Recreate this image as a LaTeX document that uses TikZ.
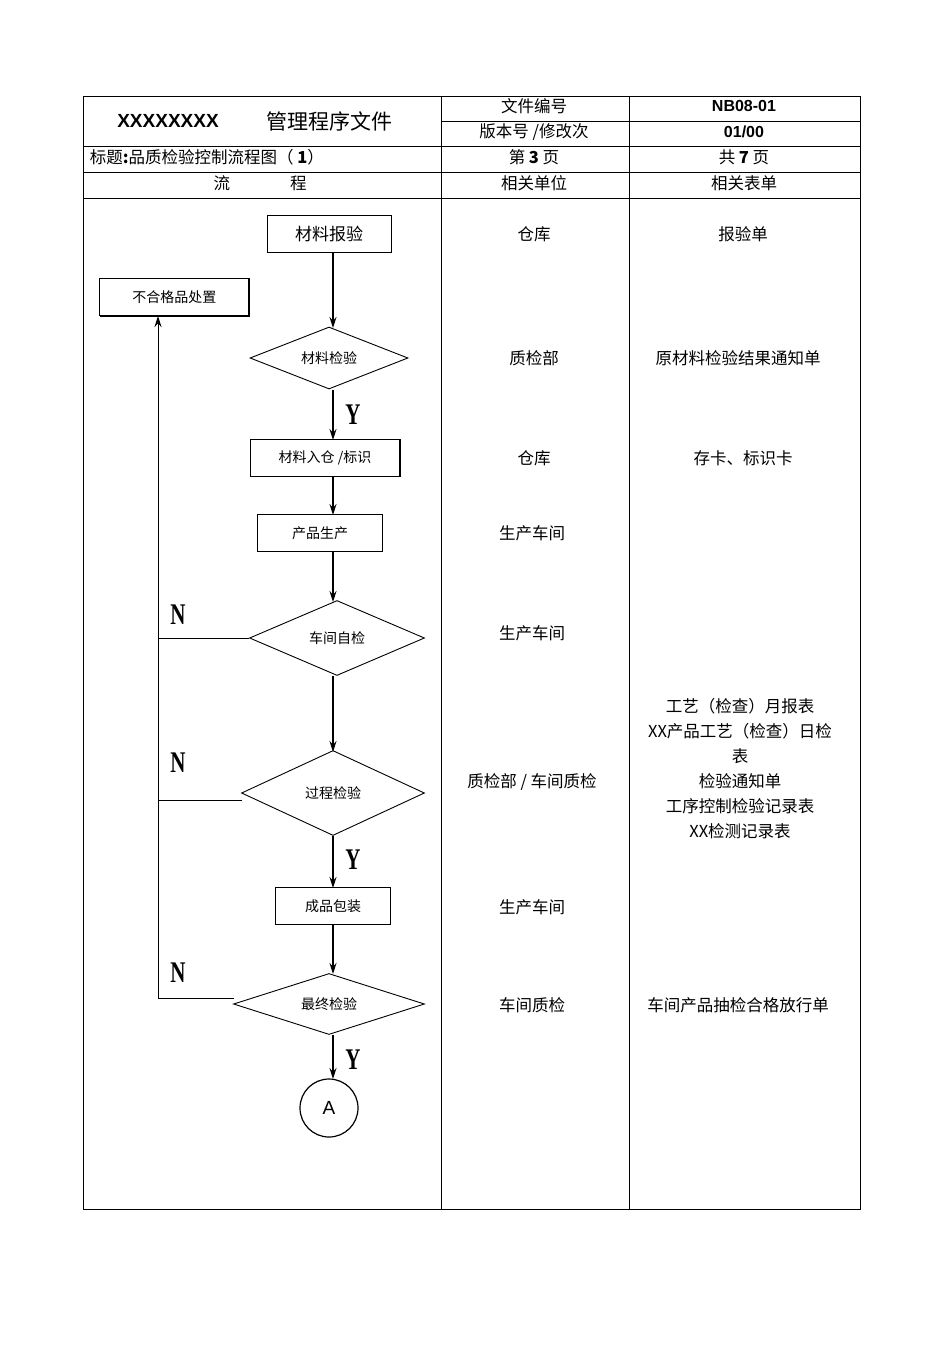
\documentclass[tikz,border=0pt]{standalone}
\usepackage{fontspec}
\setmainfont{Liberation Sans}
\newfontfamily\cjk{Noto Sans CJK SC}
\newfontfamily\ynf{Liberation Serif}
\usetikzlibrary{shapes.geometric,arrows.meta}
\begin{document}
\begin{tikzpicture}[x=1pt,y=-1pt,line width=0.9pt,
 box/.style={draw,minimum height=37pt,font=\cjk\fontsize{14}{16}\selectfont},
 dia/.style={draw,diamond,aspect=2.2,inner sep=0pt,font=\cjk\fontsize{14}{16}\selectfont},
 txt/.style={font=\cjk\fontsize{16.5}{19}\selectfont,align=center},
 yn/.style={font=\ynf\bfseries\fontsize{30}{32}\selectfont,xscale=0.7},
 arr/.style={line width=1.3pt,-{Stealth[length=11pt,width=7pt]}}]
\useasboundingbox (0,0) rectangle (950,1345);
% table
\draw[line width=1pt] (83,96) rectangle (860,1209);
\draw (441,96)--(441,1209) (629,96)--(629,1209);
\draw (441,121)--(860,121) (83,146)--(860,146) (83,172)--(860,172) (83,198)--(860,198);
\node[font=\bfseries\fontsize{19}{22}\selectfont] (h1) at (168,121) {XXXXXXXX};
\node[txt,font=\cjk\fontsize{21}{24}\selectfont] (h2) at (329,121) {管理程序文件};
\node[txt] (h3) at (534,106) {文件编号};
\node[font=\bfseries\fontsize{16}{18}\selectfont] (h4) at (744,106) {NB08-01};
\node[txt] (h5) at (534,132) {版本号 /修改次};
\node[font=\bfseries\fontsize{16}{18}\selectfont] (h6) at (744,132) {01/00};
\node[txt,anchor=west] (h7) at (86,157) {标题\textbf{:}品质检验控制流程图（ \textbf{1}）};
\node[txt] (h8) at (534,157) {第 \textbf{3} 页};
\node[txt] (h9) at (744,157) {共 \textbf{7} 页};
\node[txt] (h10) at (260,183) {流\hspace{60pt}程};
\node[txt] (h11) at (534,183) {相关单位};
\node[txt] (h12) at (744,183) {相关表单};
% flow
\node[box,minimum width=124pt,font=\cjk\fontsize{17}{19}\selectfont] (a) at (329,234) {材料报验};
\node[box,minimum width=150pt,anchor=west] (bad) at (99,297) {不合格品处置};
\draw[line width=1.8pt] (100,316)--(249,316)--(249,279);
\node[dia,minimum width=158pt,minimum height=62pt] (b) at (329,358) {材料检验};
\node[box,minimum width=150pt] (c) at (325,458) {材料入仓 /标识};
\draw[line width=1.8pt] (400,440)--(400,477);
\node[box,minimum width=125pt] (d) at (320,533) {产品生产};
\node[dia,minimum width=175pt,minimum height=75pt] (e) at (337,638) {车间自检};
\node[dia,minimum width=183pt,minimum height=85pt] (f) at (333,793) {过程检验};
\node[box,minimum width=115pt] (g) at (333,906) {成品包装};
\node[dia,minimum width=191pt,minimum height=61pt] (h) at (329,1004) {最终检验};
\node[draw,circle,line width=1.2pt,minimum size=58pt,font=\fontsize{19}{22}\selectfont] (i) at (329,1108) {A};
\coordinate (m0) at (333,253);
\draw[arr] (m0)--(333,328);
\draw[arr] (333,390)--(333,440);
\draw[arr] (333,477)--(333,515);
\draw[arr] (333,551)--(333,602);
\draw[arr] (333,676)--(333,752);
\draw[arr] (333,836)--(333,888);
\draw[arr] (333,924)--(333,974);
\draw[arr] (333,1035)--(333,1079);
\coordinate (l0) at (158,998);
\coordinate (l1) at (158,316);
\draw[arr,line width=1pt] (l0)--(l1);
\draw (e.west)--(158,638);
\draw (242,800)--(158,800);
\draw (234,998)--(158,998);
\node[yn] (y1) at (353,415) {Y};
\node[yn] (y2) at (353,860) {Y};
\node[yn] (y3) at (353,1060) {Y};
\node[yn] (n1) at (178,615) {N};
\node[yn] (n2) at (178,763) {N};
\node[yn] (n3) at (178,973) {N};
% columns
\node[txt] (u1) at (534,234) {仓库};
\node[txt] (u2) at (534,358) {质检部};
\node[txt] (u3) at (534,458) {仓库};
\node[txt] (u4) at (532,533) {生产车间};
\node[txt] (u5) at (532,633) {生产车间};
\node[txt] (u6) at (532,782) {质检部 / 车间质检};
\node[txt] (u7) at (532,907) {生产车间};
\node[txt] (u8) at (532,1005) {车间质检};
\node[txt] (f1) at (743,234) {报验单};
\node[txt] (f2) at (738,358) {原材料检验结果通知单};
\node[txt] (f3) at (743,458) {存卡、标识卡};
\node[txt,font=\cjk\fontsize{16.5}{25}\selectfont] (f4) at (740,769) {工艺（检查）月报表\\XX产品工艺（检查）日检\\表\\检验通知单\\工序控制检验记录表\\XX检测记录表};
\node[txt] (f5) at (738,1005) {车间产品抽检合格放行单};
\end{tikzpicture}
\end{document}
